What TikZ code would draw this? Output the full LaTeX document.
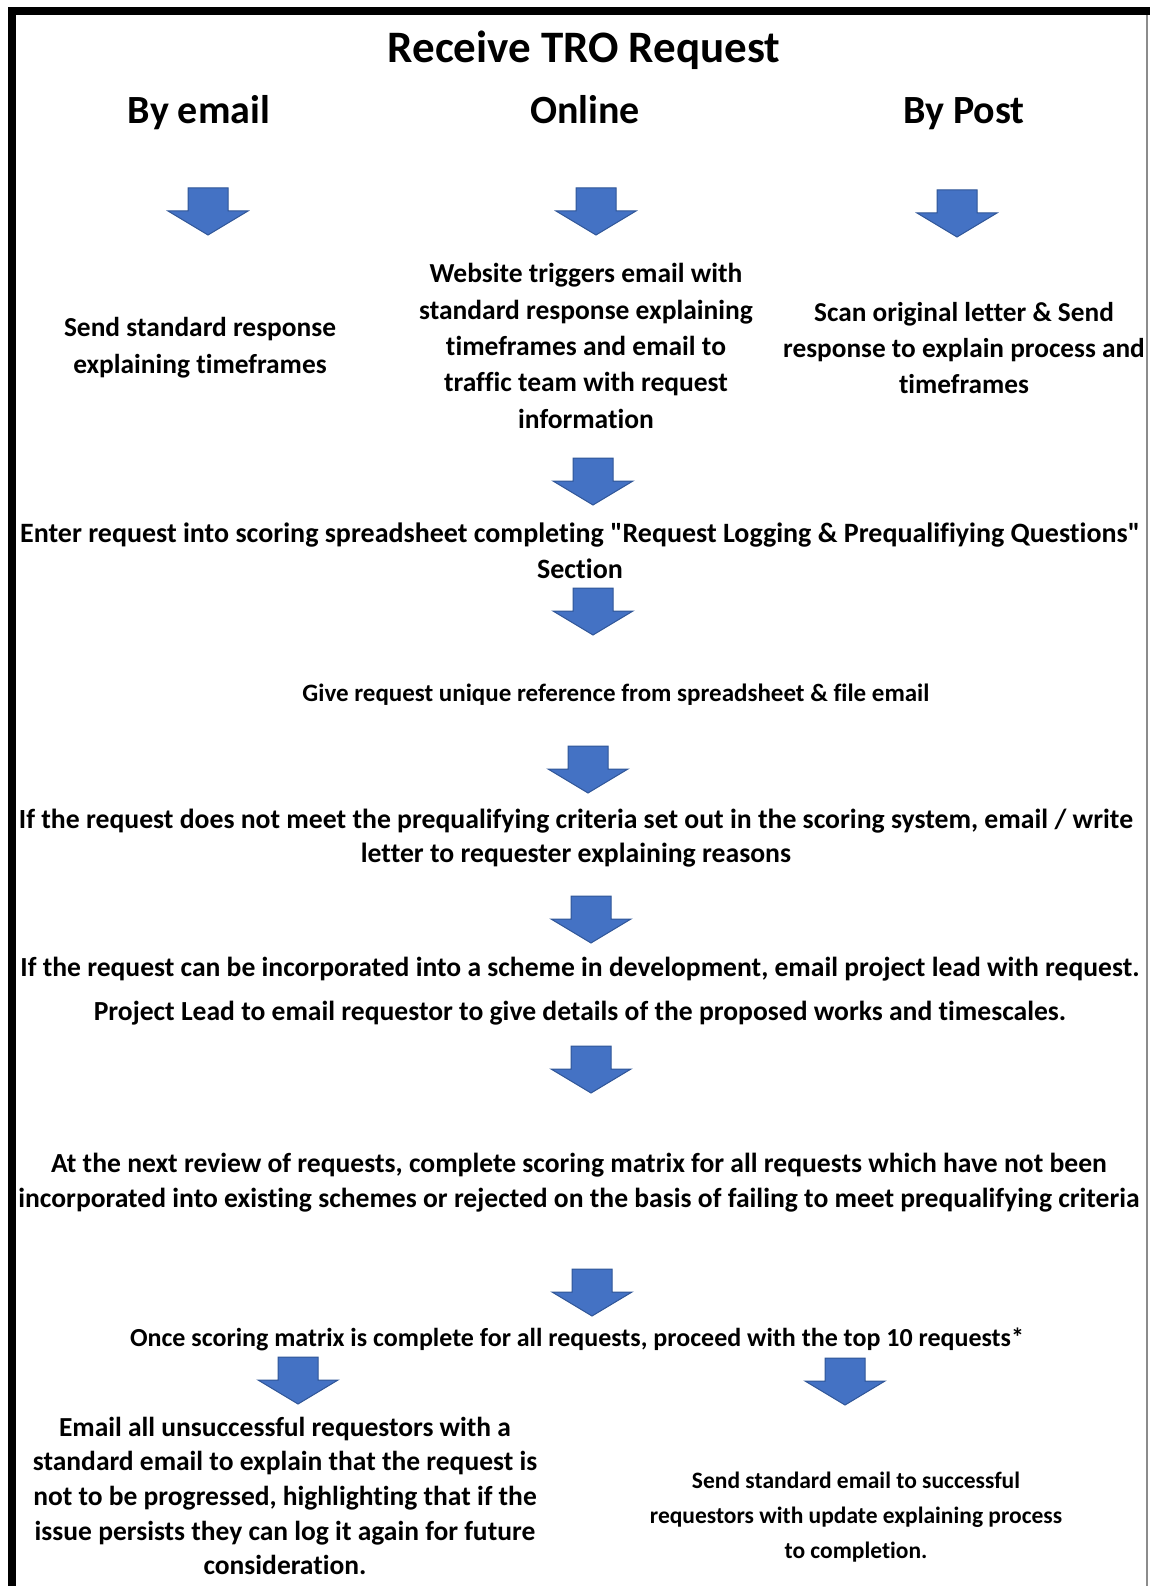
\documentclass[tikz,border=0pt]{standalone}
\usepackage{fontspec}
\setmainfont{Carlito}[Ligatures={TeXOff,NoCommon}]
\begin{document}
\begin{tikzpicture}[x=1pt,y=-1pt,
  barrow/.style={fill=arrowblue,draw=arrowedge,line width=1pt,line join=miter},
  body/.style 2 args={font=\bfseries\fontsize{#1pt}{#2pt}\selectfont,align=center,inner sep=0pt,text=black},
  head/.style={font=\bfseries\fontsize{40pt}{46pt}\selectfont,inner sep=0pt,text=black,anchor=base},
  ttl/.style={font=\bfseries\fontsize{45pt}{52pt}\selectfont,inner sep=0pt,text=black,anchor=base}]
\definecolor{arrowblue}{HTML}{4472C4}
\definecolor{arrowedge}{HTML}{2F5597}
\newcommand\bluearrow[3]{%
  \draw[barrow] (#2-20,#3) -- (#2+20,#3) -- (#2+20,#3+23) -- (#2+40,#3+23) -- (#2,#3+47) -- (#2-40,#3+23) -- (#2-20,#3+23) -- cycle;
  \coordinate (#1) at (#2,#3);}
\useasboundingbox (0,0) rectangle (1150,1586);
\fill[white] (0,0) rectangle (1150,1586);
% frame
\draw[line width=8pt] (11.5,1586) -- (11.5,11) -- (1150,11);
\draw[black!45,line width=1.5pt] (1147,15) -- (1147,1586);
% title and channels
\node[ttl] (title) at (584,63) {Receive TRO Request};
\node[head] (h1) at (199,123.5) {By email};
\node[head] (h2) at (585,123.5) {Online};
\node[head] (h3) at (964,123.5) {By Post};
\bluearrow{a1}{208}{188}
\bluearrow{a2}{596}{188}
\bluearrow{a3}{957}{190}
\node[body={27.4}{36.5}] (t1) at (200,347.5) {Send standard response\\explaining timeframes};
\node[body={27.5}{36.4}] (t2) at (586,346) {Website triggers email with\\standard response explaining\\timeframes and email to\\traffic team with request\\information};
\node[body={27.3}{36}] (t3) at (964,348) {Scan original letter \& Send\\response to explain process and\\timeframes};
\bluearrow{a4}{593}{458}
\node[body={28}{36}] (t4) at (580,551) {Enter request into scoring spreadsheet completing "Request Logging \& Prequalifiying Questions"\\Section};
\bluearrow{a5}{593}{588}
\node[body={25}{30}] (t5) at (616,695) {Give request unique reference from spreadsheet \& file email};
\bluearrow{a6}{588}{746}
\node[body={27.7}{33.5}] (t6) at (576,838) {If the request does not meet the prequalifying criteria set out in the scoring system, email / write\\letter to requester explaining reasons};
\bluearrow{a7}{591}{896}
\node[body={27.6}{44.5}] (t7) at (580,991) {If the request can be incorporated into a scheme in development, email project lead with request.\\Project Lead to email requestor to give details of the proposed works and timescales.};
\bluearrow{a8}{591}{1046}
\node[body={27.6}{35}] (t8) at (579,1183) {At the next review of requests, complete scoring matrix for all requests which have not been\\incorporated into existing schemes or rejected on the basis of failing to meet prequalifying criteria};
\bluearrow{a9}{592}{1269}
\node[body={26}{30}] (t9) at (577,1339) {Once scoring matrix is complete for all requests, proceed with the top 10 requests*};
\bluearrow{a10}{298}{1357}
\bluearrow{a11}{845}{1358}
\node[body={27.5}{34.7}] (t10) at (285,1496) {Email all unsuccessful requestors with a\\standard email to explain that the request is\\not to be progressed, highlighting that if the\\issue persists they can log it again for future\\consideration.};
\node[body={23.5}{35}] (t11) at (856,1517) {Send standard email to successful\\requestors with update explaining process\\to completion.};
\end{tikzpicture}
\end{document}
